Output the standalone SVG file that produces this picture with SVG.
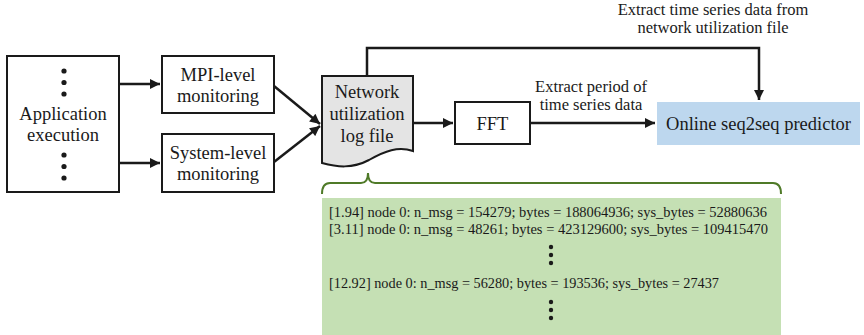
<svg xmlns="http://www.w3.org/2000/svg" width="864" height="335" viewBox="0 0 864 335" font-family="'Liberation Serif', 'Times New Roman', 'DejaVu Serif', serif">
<style>
text{font-family:'Liberation Serif','Times New Roman','DejaVu Serif',serif;fill:#1a1a1a}
.n{font-size:18.5px;text-anchor:middle}
.l{font-size:16.5px;text-anchor:middle}
.log{font-size:14.5px}
.box{fill:#fff;stroke:#1a1a1a;stroke-width:2}
.c{fill:none;stroke:#1a1a1a;stroke-width:2.5}
.dot{fill:#1a1a1a}
</style>
<defs>
<marker id="ah" viewBox="0 0 10 10" refX="10" refY="5" markerWidth="4.4" markerHeight="4" orient="auto" markerUnits="strokeWidth">
<path d="M0,0 L10,5 L0,10 Z" fill="#1a1a1a"/>
</marker>
</defs>
<g id="connectors">
<line class="c" x1="119" y1="84" x2="160" y2="84" marker-end="url(#ah)"/>
<line class="c" x1="119" y1="163" x2="160" y2="163" marker-end="url(#ah)"/>
<line class="c" x1="274" y1="86" x2="320" y2="124" marker-end="url(#ah)"/>
<line class="c" x1="274" y1="162" x2="320" y2="126" marker-end="url(#ah)"/>
<line class="c" x1="413" y1="123" x2="453" y2="123" marker-end="url(#ah)"/>
<line class="c" x1="530" y1="123" x2="655" y2="123" marker-end="url(#ah)"/>
<path class="c" d="M367,76 V48 H759 V100" marker-end="url(#ah)"/>
<text class="l" x="591" y="92">Extract period of</text>
<text class="l" x="591" y="110">time series data</text>
<text class="l" x="713" y="15">Extract time series data from</text>
<text class="l" x="713" y="33">network utilization file</text>
</g>
<g id="app">
<rect class="box" x="7" y="56" width="112" height="136"/>
<circle class="dot" cx="64" cy="71" r="2.6"/>
<circle class="dot" cx="64" cy="82.5" r="2.6"/>
<circle class="dot" cx="64" cy="94" r="2.6"/>
<text class="n" x="63" y="120">Application</text>
<text class="n" x="63" y="141">execution</text>
<circle class="dot" cx="64" cy="155" r="2.6"/>
<circle class="dot" cx="64" cy="166.5" r="2.6"/>
<circle class="dot" cx="64" cy="178" r="2.6"/>
</g>
<g id="mpi">
<rect class="box" x="162" y="56" width="112" height="57"/>
<text class="n" x="218" y="81">MPI-level</text>
<text class="n" x="218" y="102">monitoring</text>
</g>
<g id="sys">
<rect class="box" x="162" y="134" width="112" height="58"/>
<text class="n" x="218" y="159">System-level</text>
<text class="n" x="218" y="180">monitoring</text>
</g>
<g id="log">
<path d="M322,76 H413 V151 C398,146 385,151 369,160 C352,169 337,167 322,163 Z" fill="#e4e4e4" stroke="#1a1a1a" stroke-width="2"/>
<text class="n" x="367" y="98">Network</text>
<text class="n" x="367" y="120">utilization</text>
<text class="n" x="367" y="142">log file</text>
</g>
<g id="fft">
<rect class="box" x="455" y="102" width="75" height="42"/>
<text class="n" x="492.5" y="130">FFT</text>
</g>
<g id="predictor">
<rect x="657" y="102" width="203" height="43" fill="#bdd7ee"/>
<text class="n" x="758.5" y="130">Online seq2seq predictor</text>
</g>
<g id="logcontent">
<path d="M322,194 Q322,183 330,183 H361 Q368,183 368,173 Q368,183 375,183 H773 Q781,183 781,194" fill="none" stroke="#4f7a28" stroke-width="2"/>
<rect x="322" y="198" width="459" height="137" fill="#c5e0b4"/>
<text class="log" x="329" y="217" textLength="438" lengthAdjust="spacingAndGlyphs">[1.94] node 0: n_msg = 154279; bytes = 188064936; sys_bytes = 52880636</text>
<text class="log" x="329" y="234" textLength="439" lengthAdjust="spacingAndGlyphs">[3.11] node 0: n_msg = 48261; bytes = 423129600; sys_bytes = 109415470</text>
<circle class="dot" cx="551" cy="247" r="2.2"/>
<circle class="dot" cx="551" cy="255" r="2.2"/>
<circle class="dot" cx="551" cy="263" r="2.2"/>
<text class="log" x="329" y="288" textLength="390" lengthAdjust="spacingAndGlyphs">[12.92] node 0: n_msg = 56280; bytes = 193536; sys_bytes = 27437</text>
<circle class="dot" cx="551" cy="302" r="2.2"/>
<circle class="dot" cx="551" cy="310" r="2.2"/>
<circle class="dot" cx="551" cy="318" r="2.2"/>
</g>
</svg>
